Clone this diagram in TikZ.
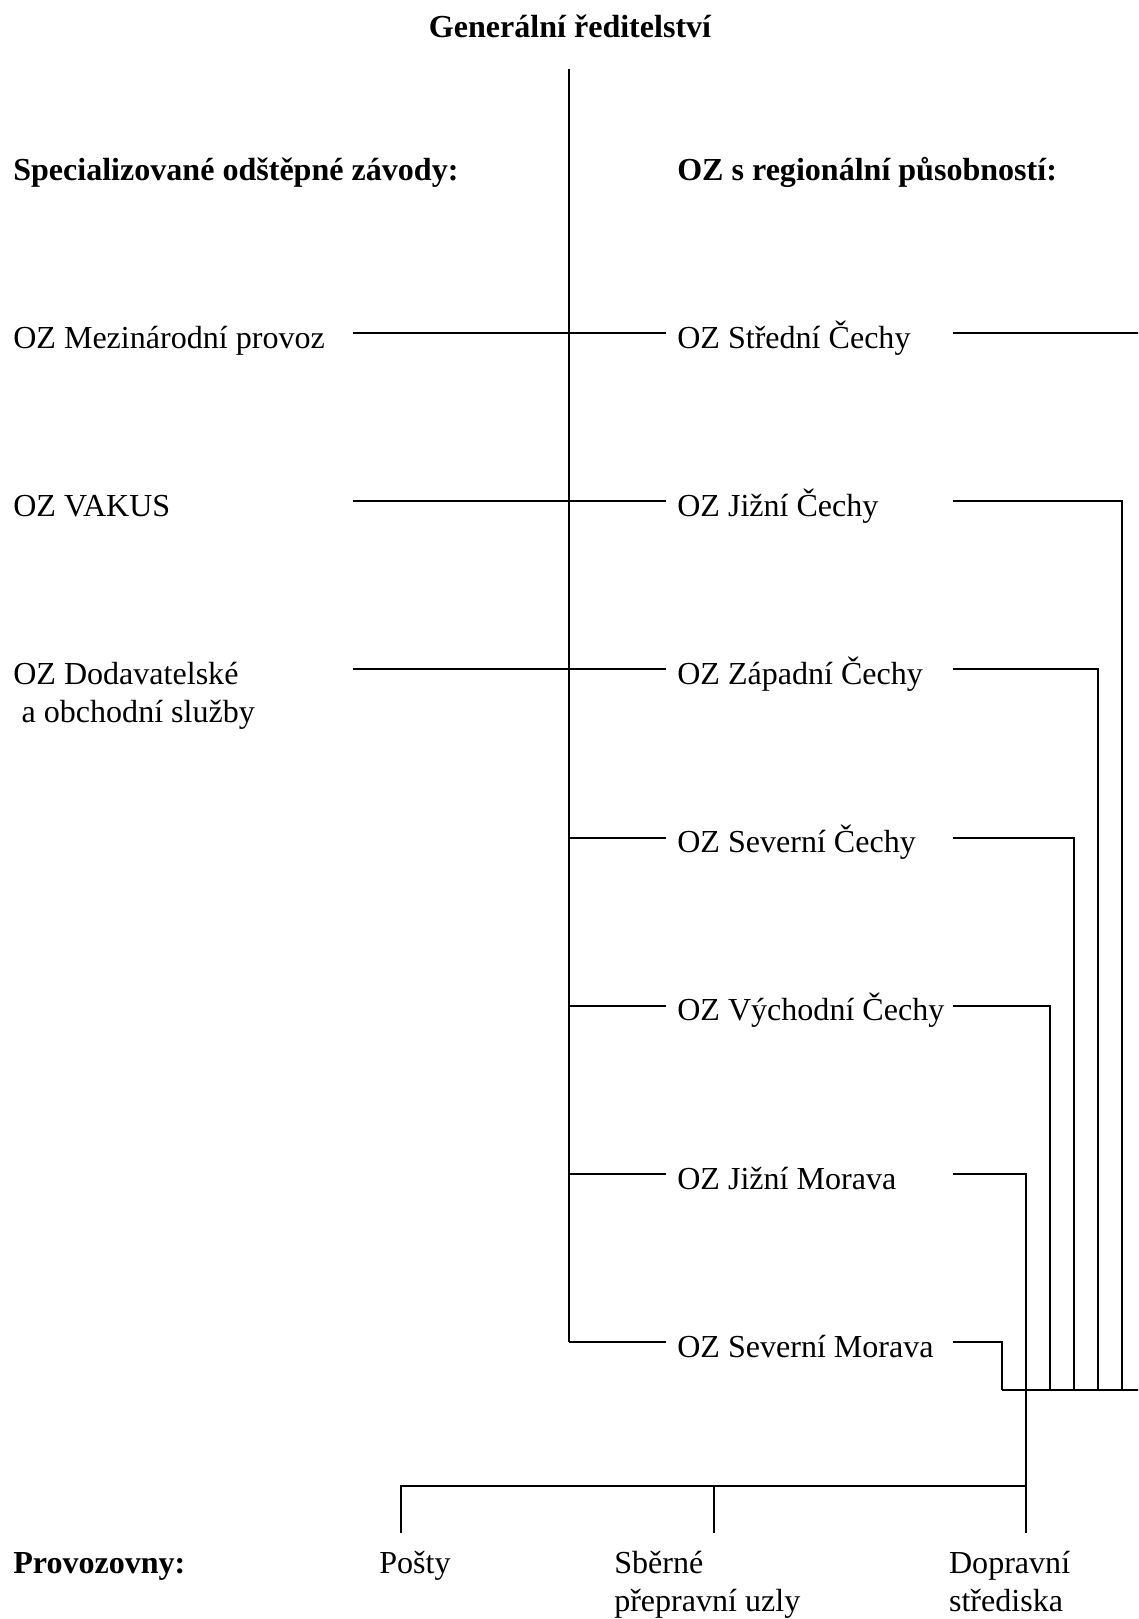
\documentclass[tikz,border=0pt]{standalone}
\usepackage{fontspec}
\setmainfont{Liberation Serif}
\usetikzlibrary{calc}
\tikzset{
  lbl/.style={anchor=base west, inner sep=0pt, font=\fontsize{22.8}{27.3}\selectfont},
  hdr/.style={lbl, font=\fontsize{22.8}{27.3}\selectfont\bfseries},
  wire/.style={line width=1.4pt},
}

\begin{document}
\begin{tikzpicture}
\fill[white] (0,0) rectangle (28.45,-40.475);
\clip (0,0) rectangle (28.45,-40.475);

% top: head office and spine
\node[hdr,anchor=base] (gr) at (14.25,-0.95) {Generální ředitelství};
\coordinate (gtop) at (14.225,-1.725);
\node[hdr] (spec) at (0.325,-4.5) {Specializované odštěpné závody:};
\node[hdr] (regio) at (16.925,-4.5) {OZ s regionální působností:};

% regional branches
\foreach \nm/\txt/\k/\vx in {stc/Střední Čechy/0/28.65, jc/Jižní Čechy/1/28.05,
    zc/Západní Čechy/2/27.45, sc/Severní Čechy/3/26.85, vc/Východní Čechy/4/26.25,
    jm/Jižní Morava/5/25.65, sm/Severní Morava/6/25.04}{
  \pgfmathsetmacro{\ly}{-8.325-4.205*\k}
  \coordinate (w\k) at (8.825,\ly);
  \coordinate (s\k) at (14.225,\ly);
  \coordinate (e\k) at (23.825,\ly);
  \coordinate (b\k) at (\vx,-34.75);
  \node[lbl] (\nm) at (16.925,\ly-0.375) {OZ \txt};
  \draw[wire,shorten >=2.75mm] (s\k) -- (\nm.west |- s\k);
  \draw[wire] (e\k) -| (b\k);
}
\draw[wire] (gtop) -- (s6);

% specialised branches (two-line nodes sit on their last baseline)
\node[lbl] (mp) at (0.325,-8.7) {OZ Mezinárodní provoz};
\node[lbl] (vak) at (0.325,-12.905) {OZ VAKUS};
\node[lbl,align=left] (dos) at (0.325,-18.07) {OZ Dodavatelské\\\hspace*{2.1mm}a obchodní služby};
\foreach \k in {0,1,2}
  \draw[wire] (w\k) -- (s\k);

% bus and establishments
\coordinate (t1) at (10.025,-37.14);
\coordinate (d1) at (10.025,-38.33);
\coordinate (t2) at (17.85,-37.14);
\coordinate (d2) at (17.85,-38.33);
\coordinate (d3) at (25.65,-38.33);
\draw[wire] (b6) -- (b0);
\draw[wire] (b5) -- (d3);
\draw[wire] (d1) |- (b5 |- t1);
\draw[wire] (t2) -- (d2);

\node[hdr] (prov) at (0.325,-39.325) {Provozovny:};
\node[lbl] (posty) at (9.475,-39.325) {Pošty};
\node[lbl,align=left] (spu) at (15.35,-40.285) {Sběrné\\přepravní uzly};
\node[lbl,align=left] (dst) at (23.72,-40.285) {Dopravní\\střediska};
\end{tikzpicture}
\end{document}
